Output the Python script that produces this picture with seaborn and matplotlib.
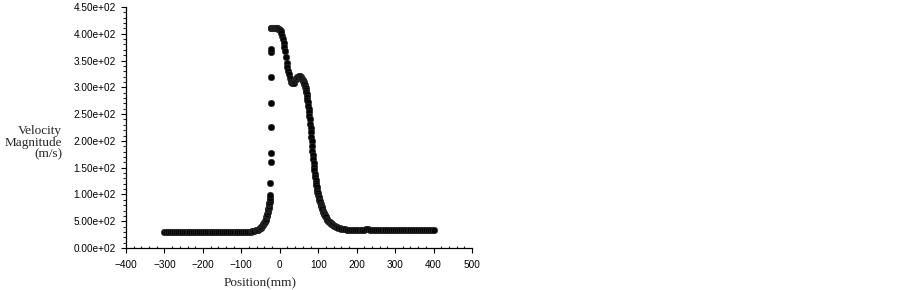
import pandas as pd
import matplotlib.pyplot as plt
import seaborn as sns
from matplotlib.ticker import MultipleLocator, FixedLocator

# flat inlet region (mm, m/s)
inlet_pos = [-300, -295, -290, -285, -280, -275, -270, -265, -260, -255, -250, -245,
             -240, -235, -230, -225, -220, -215, -210, -205, -200, -195, -190, -185,
             -180, -175, -170, -165, -160, -155, -150, -145, -140, -135, -130, -125,
             -120, -115, -110, -105, -100, -95]
inlet_vel = [29] * len(inlet_pos)

# steep rise before the throat
rise_pos = [-90, -85, -80, -76, -72, -69, -66, -63, -60, -57, -55, -52, -50, -48, -46,
            -44, -43, -41, -40, -39, -38, -37, -36, -35, -34, -33, -32, -31, -30, -29.5,
            -29, -28.5, -28, -27.5, -27, -26.5, -26, -25.5, -25, -24.5, -24, -24, -24,
            -24, -24, -24, -24, -23]
rise_vel = [29.5, 29.7, 30, 30.5, 31, 31.5, 32, 33, 33.5, 34.5, 35, 36.5, 37.5, 39, 40.5,
            42.5, 44, 46, 47.5, 49, 51, 53, 55, 57, 59, 61.5, 64, 68, 71, 73,
            75, 77, 79, 82, 84, 86.5, 89, 94, 99, 121, 161, 177, 226,
            270, 320, 366, 372, 410]

# peak and decay
peak_pos = [-22, -20, -18, -16, -14, -12, -10, -8, -6, -4, -2, 0, 2, 4, 6, 8, 10, 12, 14,
            16, 18, 20, 22, 24, 26, 28, 30, 32, 34, 36, 38, 40, 42, 44, 46, 48, 50, 52,
            54, 56, 58, 60, 61, 62, 63, 64, 65, 66, 67, 68, 69, 70, 71, 72, 73, 74, 75,
            76, 77, 78, 79, 80, 81, 82, 83, 84, 85, 86, 87, 88, 89, 90, 91, 92, 93, 94,
            95, 96, 97, 98, 99, 100, 101, 102, 103, 104, 105, 106, 107, 108, 109, 110,
            111, 112, 113, 114, 115, 116, 117, 118, 119, 120, 122, 124, 126, 128, 130,
            132, 134, 136, 138, 140, 143, 146, 149, 152, 156, 160, 165, 170, 175, 180]
peak_vel = [410, 410, 410, 410, 410, 410, 410, 410, 410, 409, 408, 407, 405, 401, 396,
            390, 383, 376, 367, 356, 346, 338, 331, 325, 318, 313, 310, 308, 308, 309,
            311, 313, 315, 317, 319, 320, 321, 321, 320, 318, 316, 314, 312, 310, 308,
            306, 304, 301, 298, 295, 291, 287, 282, 277, 272, 266, 260, 254, 247, 240,
            232, 224, 216, 207, 199, 190, 182, 174, 166, 158, 151, 145, 139, 133, 127,
            122, 117, 113, 109, 105, 102, 99, 96, 93, 90, 87, 85, 82, 80, 78, 76, 74,
            72, 70, 68, 66, 64, 63, 61, 60, 58, 57, 55, 53, 51, 49, 48, 47, 45, 44, 43,
            42, 41, 40, 39, 38, 37, 36, 35.5, 35, 34.5, 34]

# outlet region
outlet_pos = [185, 190, 195, 200, 205, 210, 215, 220, 225, 230, 235, 240, 245, 250, 255,
              260, 265, 270, 275, 280, 285, 290, 295, 300, 305, 310, 315, 320, 325, 330,
              335, 340, 345, 350, 355, 360, 365, 370, 375, 380, 385, 390, 395, 400]
outlet_vel = [33, 33, 33, 33, 33, 33, 33.5, 34.5, 35.5, 35.5, 34.5, 33, 33, 33, 33,
              33, 33, 33, 33, 33, 33, 33, 33, 33, 33, 33, 33, 33, 33, 33,
              33, 33, 33, 33, 33, 33, 33, 33, 33, 33, 33, 33, 33, 33]

y_ticks = [0, 50, 100, 150, 200, 250, 300, 350, 400, 450]
y_labels = ['0.00e+02', '5.00e+02', '1.00e+02', '1.50e+02', '2.00e+02',
            '2.50e+02', '3.00e+02', '3.50e+02', '4.00e+02', '4.50e+02']

df = pd.DataFrame({
    'pos': inlet_pos + rise_pos + peak_pos + outlet_pos,
    'vel': inlet_vel + rise_vel + peak_vel + outlet_vel,
})

sns.set_theme(style="ticks")
plt.rcParams['font.family'] = ['Liberation Sans', 'DejaVu Sans']

fig = plt.figure(figsize=(9.03, 2.90), dpi=100)
ax = fig.add_axes([126 / 903, 1 - 248 / 290, 346 / 903, 241 / 290])

sns.scatterplot(data=df, x='pos', y='vel', ax=ax, color='black', s=22,
                edgecolor='#333333', linewidth=0.4, legend=False)

ax.set_xlim(-400, 500)
ax.set_ylim(0, 450)
ax.set_xticks(range(-400, 501, 100))
ax.xaxis.set_minor_locator(MultipleLocator(20))
ax.yaxis.set_major_locator(FixedLocator(y_ticks))
ax.set_yticklabels(y_labels)
ax.yaxis.set_minor_locator(MultipleLocator(10))

ax.tick_params(axis='x', which='major', direction='out', length=3.5, width=0.8,
               labelsize=7.2, pad=5, colors='black')
ax.tick_params(axis='x', which='minor', direction='in', length=1.8, width=0.8)
ax.tick_params(axis='y', which='major', direction='out', length=3.5, width=0.8,
               labelsize=7.2, pad=4, colors='black')
ax.tick_params(axis='y', which='minor', direction='out', length=2, width=0.8)

for side in ['top', 'right']:
    ax.spines[side].set_visible(False)
for side in ['left', 'bottom']:
    ax.spines[side].set_color('black')
    ax.spines[side].set_linewidth(0.9)

ax.set_xlabel('Position(mm)', fontsize=9.5, family=['Liberation Serif', 'DejaVu Serif'])
ax.xaxis.set_label_coords((260 - 126) / 346, -35 / 241)
ax.xaxis.label.set_va('center')
ax.set_ylabel('Velocity\nMagnitude\n(m/s)', fontsize=9.5,
              family=['Liberation Serif', 'DejaVu Serif'],
              rotation=0, ha='right', va='center', linespacing=0.95)
ax.yaxis.set_label_coords((62 - 126) / 346, (248 - 143) / 241)

plt.savefig('out.png', dpi=100, facecolor='white')
